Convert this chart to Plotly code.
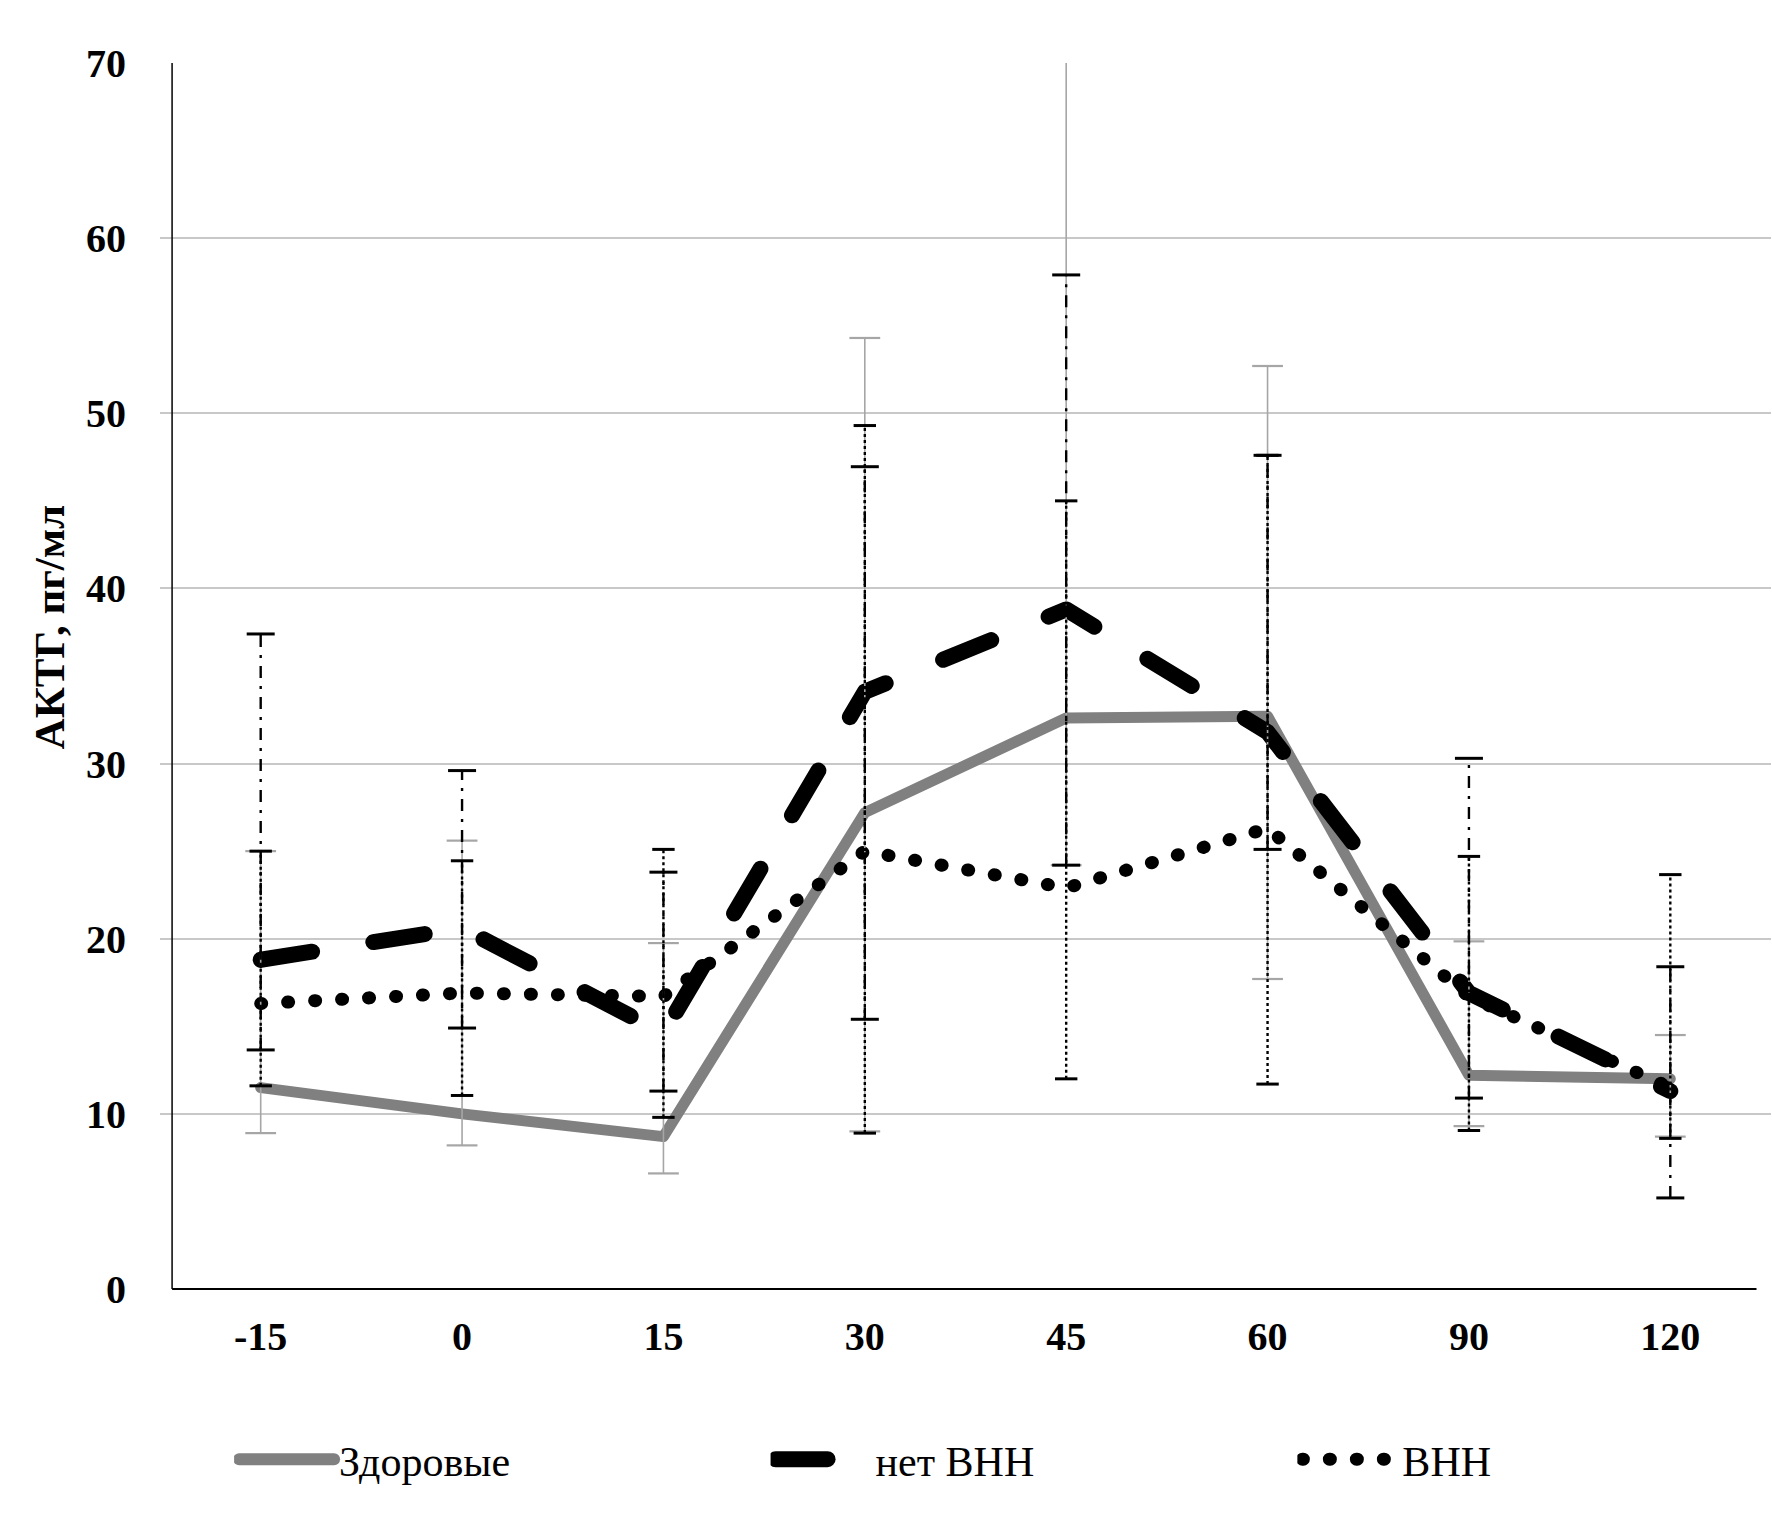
import plotly.graph_objects as go

# ---- data ----
times = ["-15", "0", "15", "30", "45", "60", "90", "120"]

healthy = [11.5, 10.0, 8.7, 27.2, 32.6, 32.7, 12.2, 12.0]
healthy_hi = [25.0, 25.6, 19.75, 54.3, 71.0, 52.7, 19.85, 14.5]
healthy_lo = [8.9, 8.2, 6.6, 9.0, 24.2, 17.7, 9.3, 8.7]

no_ai = [18.8, 20.6, 14.6, 34.1, 38.8, 31.8, 16.9, 11.3]
no_ai_hi = [37.4, 29.6, 23.8, 46.95, 57.9, 47.6, 30.3, 18.4]
no_ai_lo = [13.65, 14.9, 11.3, 15.4, 24.2, 25.1, 10.9, 5.2]

ai = [16.3, 16.9, 16.7, 25.0, 22.9, 26.3, 16.7, 11.5]
ai_hi = [25.0, 24.45, 25.1, 49.3, 45.0, 47.6, 24.7, 23.66]
ai_lo = [11.6, 11.05, 9.8, 8.9, 12.0, 11.7, 9.05, 8.6]

names = ["Здоровые", "нет ВНН", "ВНН"]
y_ticks = [0, 10, 20, 30, 40, 50, 60, 70]
y_title = "АКТГ, пг/мл"

FONT = "Liberation Serif, Times New Roman, serif"

fig = go.Figure()

# main lines (each with its own legend box)
fig.add_trace(go.Scatter(x=times, y=healthy, name=names[0], mode="lines", legend="legend",
                         line=dict(color="#808080", width=11)))
fig.add_trace(go.Scatter(x=times, y=no_ai, name=names[1], mode="lines", legend="legend2",
                         line=dict(color="#000000", width=16, dash="52px,62px")))
fig.add_trace(go.Scatter(x=times, y=ai, name=names[2], mode="lines", legend="legend3",
                         line=dict(color="#000000", width=13, dash="1px,26px")))


def bar_xy(lo, hi):
    xs, ys = [], []
    for t, a, b in zip(times, lo, hi):
        xs += [t, t, None]
        ys += [a, b, None]
    return xs, ys


bar_styles = [
    (healthy_lo, healthy_hi, "#a6a6a6", 1.6, "solid", 22),
    (no_ai_lo, no_ai_hi, "#000000", 2.4, "12px,8px,3px,8px", 20),
    (ai_lo, ai_hi, "#000000", 2.4, "3px,3px", 16),
]
for lo, hi, col, w, dash, cap in bar_styles:
    xs, ys = bar_xy(lo, hi)
    fig.add_trace(go.Scatter(x=xs, y=ys, mode="lines", showlegend=False,
                             hoverinfo="skip", line=dict(color=col, width=w, dash=dash)))
    fig.add_trace(go.Scatter(x=times + times, y=list(lo) + list(hi), mode="markers",
                             showlegend=False, hoverinfo="skip",
                             marker=dict(symbol="line-ew", size=cap,
                                         line=dict(color=col, width=w + 0.6))))

fig.add_annotation(text=y_title, xref="paper", yref="paper", x=-0.068, y=0.54,
                   xanchor="center", yanchor="middle",
                   textangle=-90, showarrow=False,
                   font=dict(family=FONT, size=43, color="black", weight="bold"))

# axis lines (y axis line sits slightly inside the gridline start, as in the original)
fig.add_shape(type="line", xref="paper", yref="paper", x0=0.0075, x1=0.0075, y0=0, y1=1,
              line=dict(color="black", width=1.5))
fig.add_shape(type="line", xref="paper", yref="paper", x0=0.0075, x1=0.991, y0=0, y1=0,
              line=dict(color="black", width=1.8))

leg_common = dict(orientation="h", y=-0.139, xanchor="left", yanchor="middle",
                  itemwidth=95, font=dict(family=FONT, size=42, color="black"),
                  bgcolor="rgba(0,0,0,0)")

fig.update_layout(
    width=1772, height=1519,
    margin=dict(l=160, r=1, t=63, b=230, autoexpand=False),
    paper_bgcolor="white", plot_bgcolor="white",
    showlegend=True,
    legend=dict(x=0.046, **leg_common),
    legend2=dict(x=0.379, **leg_common),
    legend3=dict(x=0.706, **leg_common),
    xaxis=dict(type="category", categoryorder="array", categoryarray=times,
               range=[-0.5, 7.5], showgrid=False, zeroline=False,
               showline=False, ticks="", ticklabelstandoff=20,
               tickfont=dict(family=FONT, size=40, color="black", weight="bold")),
    yaxis=dict(range=[0, 70], tickvals=y_ticks, showgrid=True,
               gridcolor="#c8c8c8", gridwidth=1.5, zeroline=False,
               showline=False, ticks="", ticklabelstandoff=33,
               tickfont=dict(family=FONT, size=40, color="black", weight="bold")),
)

post = """
document.body.style.margin='0';
var st=document.createElement('style');
st.innerHTML=[
 '.scatterlayer .trace:nth-child(-n+3) path.js-line {stroke-linecap: round !important; stroke-linejoin: round !important;}',
 'g.legend path.js-line, g.legend2 path.js-line, g.legend3 path.js-line {stroke-linecap: round !important;}',
 'g.legend path.js-line {stroke-width: 12px !important;}',
 'g.legend2 path.js-line {stroke-width: 16px !important;}',
 'g.legend3 path.js-line {stroke-width: 13px !important;}'
].join(' ');
document.head.appendChild(st);
"""
fig.write_html("out.html", post_script=post, config={"displayModeBar": False})
